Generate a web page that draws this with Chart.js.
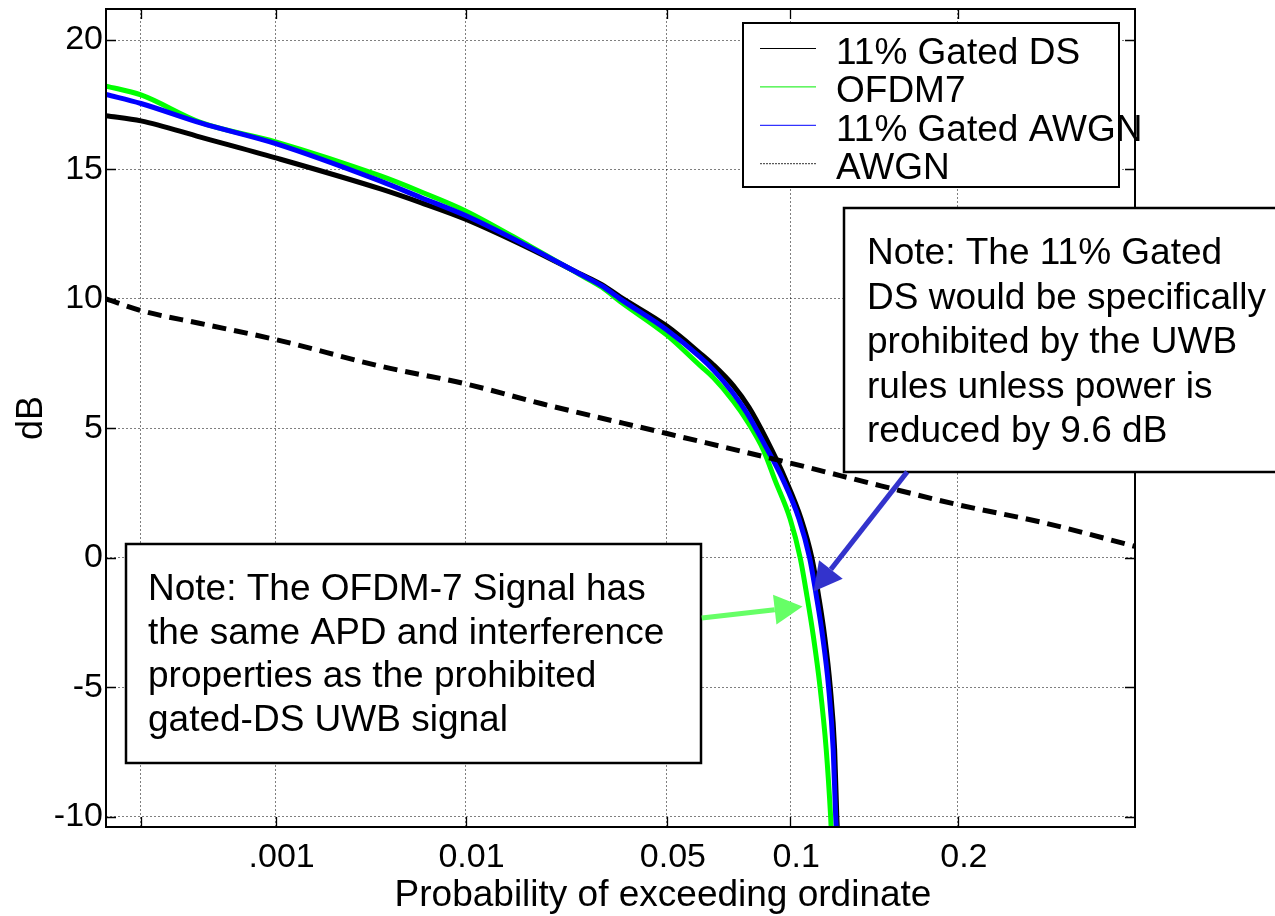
<!DOCTYPE html>
<html>
<head>
<meta charset="utf-8">
<title>APD comparison</title>
<script src="https://cdn.jsdelivr.net/npm/chart.js@4.4.1/dist/chart.umd.min.js"></script>
<style>
  html, body { margin: 0; padding: 0; background: #fff; }
  canvas { display: block; }
</style>
</head>
<body>
<canvas id="chart" width="1275" height="916"></canvas>
<script>
// x = probability of exceeding ordinate, y = level in dB
const gatedDsProb = [4.9e-5, 1e-4, 3e-4, 0.001, 0.004, 0.0063, 0.01, 0.018, 0.027, 0.032, 0.0365, 0.05, 0.0614, 0.0664, 0.0743, 0.081, 0.0886, 0.0979, 0.1055, 0.111, 0.1146, 0.1177, 0.1208, 0.1232, 0.1244, 0.1248];
const gatedDsDb = [17.08, 16.88, 16.25, 15.45, 14.25, 13.72, 13.08, 11.95, 10.98, 10.55, 10.08, 8.95, 7.9, 7.45, 6.65, 5.8, 4.6, 3.0, 1.5, 0, -1.5, -3, -5, -7.4, -10, -10.6];

const ofdm7Prob = [4.9e-5, 1e-4, 3e-4, 0.001, 0.004, 0.0063, 0.01, 0.018, 0.027, 0.032, 0.0365, 0.05, 0.0614, 0.0664, 0.0743, 0.08, 0.0874, 0.0927, 0.1, 0.105, 0.1085, 0.1117, 0.1153, 0.1186, 0.121, 0.1214];
const ofdm7Db = [18.22, 17.88, 16.82, 16.07, 14.75, 14.14, 13.4, 12.05, 10.95, 10.45, 9.9, 8.6, 7.42, 6.95, 6.05, 5.3, 4.15, 3.0, 1.5, 0, -1.5, -3, -5, -7.4, -10, -10.6];

const gatedAwgnProb = [4.9e-5, 1e-4, 3e-4, 0.001, 0.004, 0.0063, 0.01, 0.018, 0.027, 0.032, 0.0365, 0.05, 0.0614, 0.0664, 0.0743, 0.08, 0.0874, 0.0966, 0.1044, 0.1098, 0.1134, 0.1166, 0.1199, 0.1224, 0.1238, 0.1243];
const gatedAwgnDb = [17.9, 17.55, 16.8, 16.0, 14.55, 13.92, 13.22, 12.0, 10.97, 10.5, 10.0, 8.8, 7.75, 7.25, 6.35, 5.6, 4.45, 3.0, 1.5, 0, -1.5, -3, -5, -7.4, -10, -10.6];

const awgnProb = [4.9e-5, 1e-4, 3e-4, 0.001, 0.004, 0.01, 0.02, 0.05, 0.1, 0.15, 0.2, 0.263, 0.332];
const awgnDb = [10.0, 9.55, 9.05, 8.43, 7.4, 6.72, 5.95, 4.8, 3.66, 2.78, 2.05, 1.34, 0.44];

const tickProbs = [0.0001, 0.001, 0.01, 0.05, 0.1, 0.2];
const tickLabels = ['', '.001', '0.01', '0.05', '0.1', '0.2'];
const dbTicks = [-10, -5, 0, 5, 10, 15, 20];
const probRange = [4.9e-5, 0.332];
const dbRange = [-10.4, 21.2];

const FONT = 'Liberation Sans, Arial, sans-serif';

// Rayleigh-paper abscissa: log10(-ln p)
const rayleigh = p => Math.log10(-Math.log(p));
const toPoints = (probs, dbs) => probs.map((p, i) => ({ x: rayleigh(p), y: dbs[i] }));

const legendItems = [
  { label: '11% Gated DS', color: '#000000', dash: [] },
  { label: 'OFDM7', color: '#00ee00', dash: [] },
  { label: '11% Gated AWGN', color: '#0000ff', dash: [] },
  { label: 'AWGN', color: '#333333', dash: [2, 1] },
];

const notes = [
  {
    lines: ['Note: The 11% Gated', 'DS would be specifically', 'prohibited by the UWB', 'rules unless power is', 'reduced by 9.6 dB'],
    box: [844, 208, 1290, 472], textX: 867, baseline: 264, gap: 44.5,
    from: [0.1664, 3.32], to: [0.1119, -1.30], color: '#3333cc',
  },
  {
    lines: ['Note: The OFDM-7 Signal has', 'the same APD and interference', 'properties as the prohibited', 'gated-DS UWB signal'],
    box: [126, 544, 701, 763], textX: 148, baseline: 600, gap: 43.5,
    from: [0.0620, -2.33], to: [0.1062, -1.88], color: '#66ff66',
  },
];

const framePlugin = {
  id: 'frame',
  afterDatasetsDraw(chart) {
    const { ctx, chartArea: a, scales } = chart;
    ctx.save();
    ctx.strokeStyle = '#000';
    ctx.lineWidth = 2;
    ctx.strokeRect(a.left, a.top, a.right - a.left, a.bottom - a.top);
    ctx.lineWidth = 1.3;
    ctx.beginPath();
    scales.x.ticks.forEach(t => {
      const x = Math.round(scales.x.getPixelForValue(t.value)) + 0.5;
      ctx.moveTo(x, a.bottom); ctx.lineTo(x, a.bottom - 10);
      ctx.moveTo(x, a.top); ctx.lineTo(x, a.top + 10);
    });
    scales.y.ticks.forEach(t => {
      const y = Math.round(scales.y.getPixelForValue(t.value)) + 0.5;
      ctx.moveTo(a.left, y); ctx.lineTo(a.left + 10, y);
      ctx.moveTo(a.right, y); ctx.lineTo(a.right - 10, y);
    });
    ctx.stroke();
    ctx.restore();
  },
  afterDraw(chart) {
    const { ctx, scales } = chart;
    ctx.save();
    // x axis title (sits right of centre in the original)
    ctx.fillStyle = '#000';
    ctx.font = '37px ' + FONT;
    ctx.textAlign = 'center';
    ctx.textBaseline = 'middle';
    ctx.fillText('Probability of exceeding ordinate', 663, 896);
    ctx.textAlign = 'left';
    ctx.textBaseline = 'alphabetic';

    // legend
    ctx.fillStyle = '#fff';
    ctx.fillRect(743, 23, 376, 164);
    ctx.strokeStyle = '#000';
    ctx.lineWidth = 2;
    ctx.strokeRect(743, 23, 376, 164);
    ctx.font = '37px ' + FONT;
    legendItems.forEach((it, i) => {
      const y = 48 + i * 38.4;
      ctx.beginPath();
      ctx.setLineDash(it.dash);
      ctx.strokeStyle = it.color;
      ctx.lineWidth = 1;
      ctx.moveTo(760, y + 0.5); ctx.lineTo(816, y + 0.5);
      ctx.stroke();
      ctx.setLineDash([]);
      ctx.fillStyle = '#000';
      ctx.fillText(it.label, 836, y + 16);
    });

    // notes and arrows
    notes.forEach(n => {
      const [l, t, r, b] = n.box;
      ctx.fillStyle = '#fff';
      ctx.fillRect(l, t, r - l, b - t);
      ctx.strokeStyle = '#000';
      ctx.lineWidth = 2.5;
      ctx.strokeRect(l, t, r - l, b - t);
      ctx.fillStyle = '#000';
      ctx.font = '37px ' + FONT;
      n.lines.forEach((s, i) => ctx.fillText(s, n.textX, n.baseline + i * n.gap));

      const x0 = scales.x.getPixelForValue(rayleigh(n.from[0]));
      const y0 = scales.y.getPixelForValue(n.from[1]);
      const x1 = scales.x.getPixelForValue(rayleigh(n.to[0]));
      const y1 = scales.y.getPixelForValue(n.to[1]);
      const ang = Math.atan2(y1 - y0, x1 - x0);
      const head = 28, half = 15;
      const bx = x1 - head * Math.cos(ang), by = y1 - head * Math.sin(ang);
      ctx.strokeStyle = n.color;
      ctx.fillStyle = n.color;
      ctx.lineWidth = 5;
      ctx.beginPath();
      ctx.moveTo(x0, y0); ctx.lineTo(bx, by);
      ctx.stroke();
      ctx.beginPath();
      ctx.moveTo(x1, y1);
      ctx.lineTo(bx + half * Math.sin(ang), by - half * Math.cos(ang));
      ctx.lineTo(bx - half * Math.sin(ang), by + half * Math.cos(ang));
      ctx.closePath();
      ctx.fill();
    });
    ctx.restore();
  },
};

const gridOpts = { color: 'rgba(0,0,0,0.5)', lineWidth: 1, drawTicks: false };

new Chart(document.getElementById('chart'), {
  type: 'line',
  data: {
    datasets: [
      { label: '11% Gated DS', data: toPoints(gatedDsProb, gatedDsDb), borderColor: '#000000', order: 4 },
      { label: 'OFDM7', data: toPoints(ofdm7Prob, ofdm7Db), borderColor: '#00ff00', order: 3 },
      { label: '11% Gated AWGN', data: toPoints(gatedAwgnProb, gatedAwgnDb), borderColor: '#0000ff', order: 2 },
      { label: 'AWGN', data: toPoints(awgnProb, awgnDb), borderColor: '#000000', borderDash: [14, 8], order: 1 },
    ],
  },
  options: {
    responsive: false,
    animation: false,
    devicePixelRatio: 1,
    layout: { padding: { top: 9, right: 140, left: 0, bottom: 0 } },
    datasets: {
      line: { borderWidth: 5, pointRadius: 0, fill: false, cubicInterpolationMode: 'monotone', clip: 0 },
    },
    plugins: { legend: { display: false }, tooltip: { enabled: false } },
    scales: {
      x: {
        type: 'linear',
        reverse: true,
        min: rayleigh(probRange[1]),
        max: rayleigh(probRange[0]),
        afterBuildTicks: s => { s.ticks = tickProbs.map(p => ({ value: rayleigh(p) })); },
        afterFit: s => { s.height = 89; s.paddingLeft = 0; s.paddingRight = 0; },
        ticks: {
          callback: (v, i) => tickLabels[i],
          font: { family: FONT, size: 34 }, color: '#000',
          padding: 10, labelOffset: 6, maxRotation: 0, minRotation: 0, autoSkip: false,
        },
        grid: gridOpts,
        border: { display: false, dash: [2, 2] },
      },
      y: {
        type: 'linear',
        min: dbRange[0],
        max: dbRange[1],
        afterBuildTicks: s => { s.ticks = dbTicks.map(v => ({ value: v })); },
        afterFit: s => { s.width = 106; s.paddingTop = 0; s.paddingBottom = 0; },
        ticks: { font: { family: FONT, size: 34 }, color: '#000', padding: 3 },
        grid: gridOpts,
        border: { display: false, dash: [2, 2] },
        title: {
          display: true, text: 'dB', color: '#000',
          font: { family: FONT, size: 36, lineHeight: 1 }, padding: { top: 14, bottom: 0 },
        },
      },
    },
  },
  plugins: [framePlugin],
});
</script>
</body>
</html>
